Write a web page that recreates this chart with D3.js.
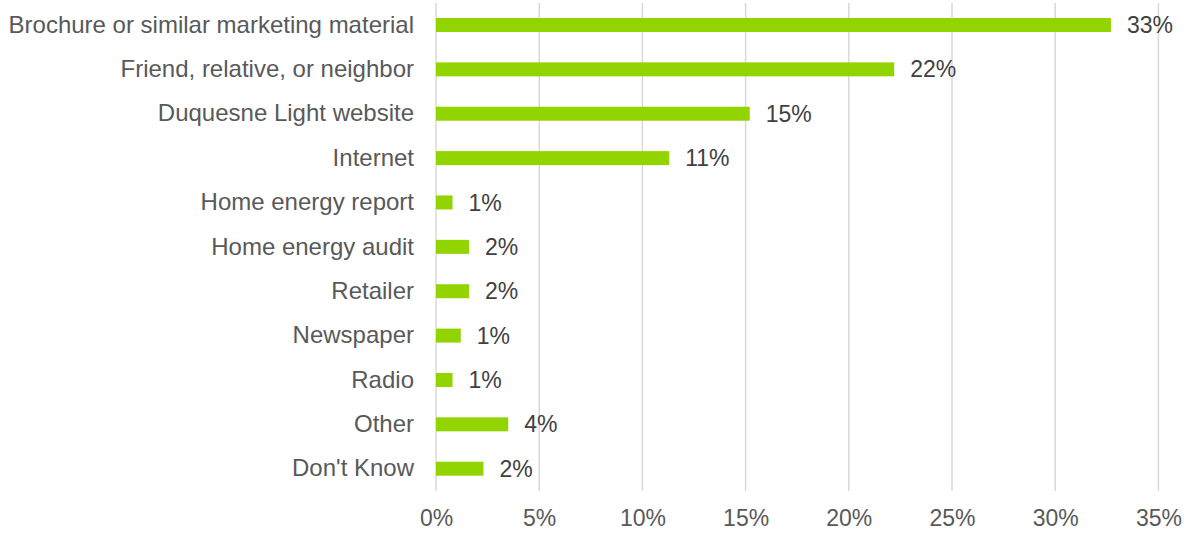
<!DOCTYPE html>
<html><head><meta charset="utf-8">
<script src="https://cdn.jsdelivr.net/npm/d3@7"></script>
<style>body{margin:0;background:#fff}svg{display:block}</style>
</head><body>
<svg id="chart" width="1191" height="534"></svg>
<script>
const categories = ["Brochure or similar marketing material","Friend, relative, or neighbor","Duquesne Light website","Internet","Home energy report","Home energy audit","Retailer","Newspaper","Radio","Other","Don't Know"];
const values = [0.327,0.222,0.152,0.113,0.008,0.016,0.016,0.012,0.008,0.035,0.023];
const valueLabels = ["33%","22%","15%","11%","1%","2%","2%","1%","1%","4%","2%"];
const xTicks = [0,0.05,0.10,0.15,0.20,0.25,0.30,0.35];

const svg = d3.select("#chart");
const font = "'Liberation Sans', Arial, sans-serif";
const x = d3.scaleLinear().domain([0,0.35]).range([436,1158.4]);
const y = d3.scaleBand().domain(categories).range([2.8,490.9]).paddingInner(0.685).paddingOuter(0.3425);

// gridlines
svg.append("g").selectAll("line").data(xTicks).join("line")
  .attr("x1",d=>x(d)).attr("x2",d=>x(d)).attr("y1",3).attr("y2",491)
  .attr("stroke","#d9d9d9").attr("stroke-width",1.5);

// x axis labels
const xAxis = d3.axisBottom(x).tickValues(xTicks).tickFormat(d3.format(".0%")).tickSize(0).tickPadding(0);
const gx = svg.append("g").attr("transform","translate(0,510)").call(xAxis);
gx.select(".domain").remove();
gx.selectAll("text").attr("font-family",font).attr("font-size",23).attr("fill","#595959").attr("dy","0.71em");

// y axis labels
const yAxis = d3.axisLeft(y).tickSize(0).tickPadding(22);
const gy = svg.append("g").attr("transform","translate(436,0)").call(yAxis);
gy.select(".domain").remove();
gy.selectAll("text").attr("font-family",font).attr("font-size",24).attr("fill","#595959");

// bars
svg.append("g").selectAll("rect").data(categories).join("rect")
  .attr("x",x(0)).attr("y",d=>y(d))
  .attr("width",(d,i)=>x(values[i])-x(0)).attr("height",y.bandwidth())
  .attr("fill","#92d400");

// value labels
svg.append("g").selectAll("text").data(categories).join("text")
  .attr("x",(d,i)=>x(values[i])+16).attr("y",d=>y(d)+y.bandwidth()/2)
  .attr("dy","0.35em").attr("font-family",font).attr("font-size",23).attr("fill","#404040")
  .text((d,i)=>valueLabels[i]);
</script>
</body></html>
